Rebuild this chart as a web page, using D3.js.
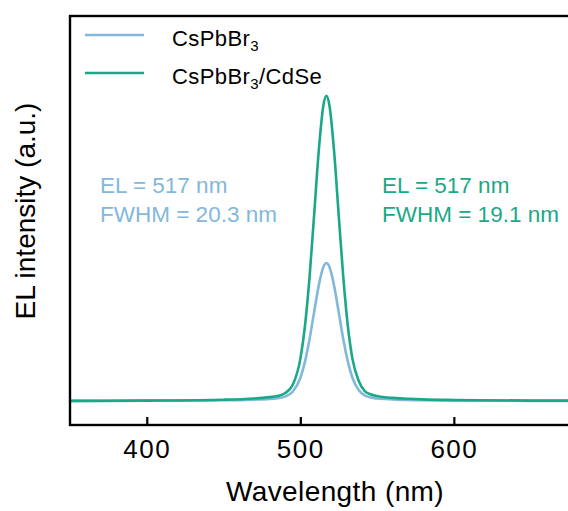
<!DOCTYPE html>
<html>
<head>
<meta charset="utf-8">
<script src="https://cdn.jsdelivr.net/npm/d3@7"></script>
<style>
  html, body { margin: 0; padding: 0; background: #fff; }
  svg { display: block; font-family: "Liberation Sans", Arial, sans-serif; }
</style>
</head>
<body>
<svg id="chart" width="568" height="511"></svg>
<script>
// wavelength grid (nm)
var wavelength = [350, 400, 450, 470, 480, 485, 490, 495, 500, 503, 506, 509, 512, 515, 517,
                  519, 522, 525, 528, 531, 534, 538, 542, 546, 550, 555, 560, 570, 580, 600, 650, 675];

// CsPbBr3 (relative to the CsPbBr3/CdSe peak)
var elBare = [0.000, 0.001, 0.002, 0.004, 0.006, 0.009, 0.014, 0.030, 0.075, 0.128, 0.202, 0.291, 0.378, 0.439, 0.452,
              0.439, 0.378, 0.291, 0.202, 0.128, 0.075, 0.036, 0.018, 0.011, 0.008, 0.006, 0.005, 0.003, 0.002, 0.001, 0.000, 0.000];

// CsPbBr3/CdSe
var elShell = [0.000, 0.001, 0.004, 0.008, 0.0125, 0.016, 0.025, 0.052, 0.137, 0.244, 0.405, 0.610, 0.819, 0.968, 1.000,
               0.968, 0.819, 0.610, 0.405, 0.244, 0.137, 0.066, 0.032, 0.021, 0.016, 0.012, 0.010, 0.007, 0.005, 0.003, 0.001, 0.001];

var seriesNames = ["CsPbBr", "CsPbBr"];
var seriesSuffix = ["", "/CdSe"];
var seriesColors = ["#82b8dc", "#1ba887"];
var xTicks = [400, 500, 600];
var notes = [
  ["EL = 517 nm", "FWHM = 20.3 nm"],
  ["EL = 517 nm", "FWHM = 19.1 nm"]
];

var svg = d3.select("#chart");

var x = d3.scaleLinear().domain([350, 675]).range([70, 569]);
var y = d3.scaleLinear().domain([-0.079, 1.262]).range([425, 16]);

var line = d3.line()
  .x(function (d) { return x(d[0]); })
  .y(function (d) { return y(d[1]); })
  .curve(d3.curveMonotoneX);

[elBare, elShell].forEach(function (vals, i) {
  svg.append("path")
    .datum(d3.zip(wavelength, vals))
    .attr("d", line)
    .attr("fill", "none")
    .attr("stroke", seriesColors[i])
    .attr("stroke-width", 2.6);
});

// frame (right edge is cropped in the original)
svg.append("rect")
  .attr("x", 70).attr("y", 16)
  .attr("width", 520).attr("height", 409)
  .attr("fill", "none")
  .attr("stroke", "#000")
  .attr("stroke-width", 2.4);

var xAxis = svg.append("g")
  .attr("transform", "translate(0,425)")
  .call(d3.axisBottom(x).tickValues(xTicks).tickSize(-8).tickPadding(14.5).tickFormat(d3.format("d")));
xAxis.select(".domain").remove();
xAxis.selectAll("line").attr("stroke", "#000").attr("stroke-width", 2.2);
xAxis.selectAll("text")
  .attr("font-family", "Liberation Sans, Arial, sans-serif")
  .attr("font-size", 26)
  .attr("letter-spacing", 1.5)
  .attr("fill", "#000");

svg.append("text")
  .attr("x", 335).attr("y", 501)
  .attr("text-anchor", "middle")
  .attr("font-size", 28)
  .attr("letter-spacing", 0.4)
  .text("Wavelength (nm)");

svg.append("text")
  .attr("transform", "translate(35,211) rotate(-90)")
  .attr("text-anchor", "middle")
  .attr("font-size", 28)
  .text("EL intensity (a.u.)");

// legend
var legendY = [35, 73];
seriesNames.forEach(function (name, i) {
  svg.append("line")
    .attr("x1", 85).attr("x2", 144)
    .attr("y1", legendY[i]).attr("y2", legendY[i])
    .attr("stroke", seriesColors[i])
    .attr("stroke-width", 2.6);
  var t = svg.append("text")
    .attr("x", 172).attr("y", legendY[i] + 11)
    .attr("font-size", 22)
    .attr("letter-spacing", 0.4);
  t.append("tspan").text(name);
  t.append("tspan").attr("font-size", 15).attr("dy", 5).text("3");
  t.append("tspan").attr("dy", -5).text(seriesSuffix[i]);
});

// annotations
var notePos = [100, 382];
notes.forEach(function (lines, i) {
  lines.forEach(function (s, j) {
    svg.append("text")
      .attr("x", notePos[i]).attr("y", 193 + j * 28.5)
      .attr("font-size", 22.5)
      .attr("fill", seriesColors[i])
      .text(s);
  });
});
</script>
</body>
</html>
